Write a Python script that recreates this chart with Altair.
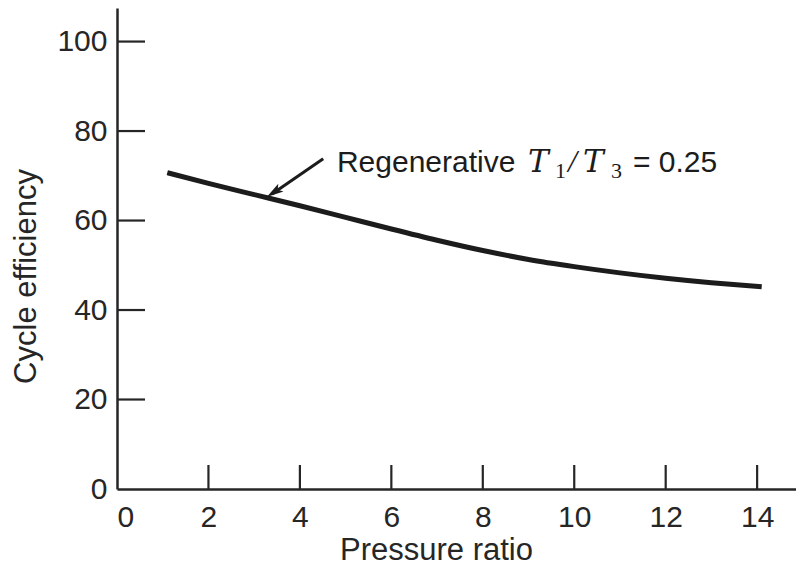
import altair as alt
import pandas as pd

# Curve: regenerative cycle, T1/T3 = 0.25
pressure_ratio = [1.1, 2, 3, 4, 5, 6, 7, 8, 9, 10, 11, 12, 13, 14.1]
efficiency = [70.7, 68.3, 65.8, 63.3, 60.7, 58.1, 55.6, 53.3, 51.3, 49.7, 48.3, 47.1, 46.1, 45.2]

x_label_values = [0, 2, 4, 6, 8, 10, 12, 14]
x_tick_values = [2, 4, 6, 8, 10, 12, 14]
y_label_values = [0, 20, 40, 60, 80, 100]
y_tick_values = [20, 40, 60, 80, 100]

# annotation (data coordinates)
label_anchor_x = [4.81]
label_anchor_y = [70.9]
arrow_x = [4.51, 3.39]
arrow_y = [73.8, 65.95]
arrow_head_x = [3.43]
arrow_head_y = [66.3]

W, H = 679, 481
X_DOM = [0, 14.85]
Y_DOM = [0, 107.5]
INK = "#262626"
FONT = "Liberation Sans"

xs = alt.Scale(domain=X_DOM, nice=False, zero=False)
ys = alt.Scale(domain=Y_DOM, nice=False, zero=False)

curve_df = pd.DataFrame({"pr": pressure_ratio, "eff": efficiency})

curve = alt.Chart(curve_df).mark_line(
    color="#1c1c1c", strokeWidth=5, interpolate="monotone", strokeCap="butt"
).encode(
    x=alt.X("pr:Q", scale=xs, axis=alt.Axis(
        title="Pressure ratio", values=x_label_values, ticks=False, tickSize=0,
        grid=False, domainColor=INK, domainWidth=2.5, labelFont=FONT,
        labelFontSize=30, labelColor=INK, labelPadding=13, titleFont=FONT,
        titleFontSize=31, titleFontWeight="normal", titleColor=INK,
        titleX=319, titleY=70, titleBaseline="alphabetic", titleAnchor="middle",
        titleAlign="center")),
    y=alt.Y("eff:Q", scale=ys, axis=alt.Axis(
        title="Cycle efficiency", values=y_label_values, ticks=False, tickSize=0,
        grid=False, domainColor=INK, domainWidth=2.5, labelFont=FONT,
        labelFontSize=30, labelColor=INK, labelPadding=10, titleFont=FONT,
        titleFontSize=31, titleFontWeight="normal", titleColor=INK,
        titleX=-82, titleY=268, titleAngle=270, titleBaseline="alphabetic",
        titleAlign="center")),
)

xt = alt.Chart(pd.DataFrame({"v": x_tick_values})).mark_rule(
    color=INK, strokeWidth=2.2
).encode(x=alt.X("v:Q", scale=xs), y=alt.value(H), y2=alt.value(H - 24))

yt = alt.Chart(pd.DataFrame({"v": y_tick_values})).mark_rule(
    color=INK, strokeWidth=2.2
).encode(y=alt.Y("v:Q", scale=ys), x=alt.value(0), x2=alt.value(28))

arrow_df = pd.DataFrame({"x": arrow_x, "y": arrow_y, "o": [0, 1]})
shaft = alt.Chart(arrow_df).mark_line(color="#1c1c1c", strokeWidth=3).encode(
    x=alt.X("x:Q", scale=xs), y=alt.Y("y:Q", scale=ys), order="o:Q")

head = alt.Chart(pd.DataFrame({"x": arrow_head_x, "y": arrow_head_y})).mark_point(
    shape="M0,-1L0.55,1L0,0.55L-0.55,1Z", filled=True, color="#1c1c1c",
    size=290, angle=236, opacity=1
).encode(x=alt.X("x:Q", scale=xs), y=alt.Y("y:Q", scale=ys))

anchor = pd.DataFrame({"x": label_anchor_x, "y": label_anchor_y})

def piece(text, dx, dy, font, size, style="normal"):
    return alt.Chart(anchor).mark_text(
        text=text, dx=dx, dy=dy, align="left", baseline="alphabetic",
        font=font, fontSize=size, fontStyle=style, color="#1c1c1c"
    ).encode(x=alt.X("x:Q", scale=xs), y=alt.Y("y:Q", scale=ys))

ann = [
    piece("Regenerative", 0, 0, FONT, 30),
    piece("T", 191, 0, "DejaVu Serif", 31, "italic"),
    piece("1", 218, 6, "Liberation Serif", 22),
    piece("/", 231, 0, "Liberation Serif", 32, "italic"),
    piece("T", 246, 0, "DejaVu Serif", 31, "italic"),
    piece("3", 274, 6, "Liberation Serif", 22),
    piece("= 0.25", 296, 0, FONT, 30),
]

chart = alt.layer(curve, xt, yt, shaft, head, *ann).properties(
    width=W, height=H,
    padding={"left": 109, "top": 0, "right": 0, "bottom": 76},
    autosize=alt.AutoSizeParams(type="none"),
    background="white",
).configure_view(stroke=None)

chart.save("out.html", embed_options={"renderer": "svg", "actions": False})
